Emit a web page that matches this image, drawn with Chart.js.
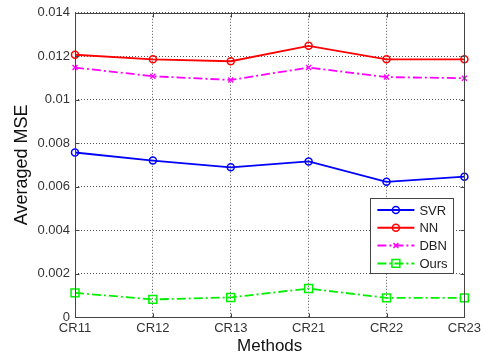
<!DOCTYPE html>
<html>
<head>
<meta charset="utf-8">
<script src="https://cdn.jsdelivr.net/npm/chart.js@4/dist/chart.umd.min.js"></script>
<style>
  html, body { margin: 0; padding: 0; background: #fff; }
  #wrap { width: 485px; height: 358px; position: relative; }
</style>
</head>
<body>
<div id="wrap"><canvas id="c" width="485" height="358"></canvas></div>
<script>
// Averaged MSE of each method over the six test conditions
const categories = ['CR11', 'CR12', 'CR13', 'CR21', 'CR22', 'CR23'];
const svr  = [0.00757, 0.00720, 0.00689, 0.00716, 0.00622, 0.00646];
const nn   = [0.01207, 0.01186, 0.01177, 0.01248, 0.01186, 0.01186];
const dbn  = [0.01148, 0.01108, 0.01091, 0.01148, 0.01104, 0.01099];
const ours = [0.00111, 0.00081, 0.00090, 0.00131, 0.00088, 0.00088];
const yTickLabels = ['0', '0.002', '0.004', '0.006', '0.008', '0.01', '0.012', '0.014'];

const FONT = "'Liberation Sans', Arial, sans-serif";
const AXIS_COLOR = '#444';
const DASH_DOT = [9, 3, 2, 3];

// Frame around the plot with inward tick marks on all four sides
const boxPlugin = {
  id: 'box',
  afterDatasetsDraw(chart) {
    const { ctx, chartArea: a, scales } = chart;
    ctx.save();
    ctx.strokeStyle = AXIS_COLOR;
    ctx.lineWidth = 1;
    ctx.setLineDash([]);
    const L = Math.round(a.left) + 0.5, R = Math.round(a.right) + 0.5;
    const T = Math.round(a.top) + 0.5, B = Math.round(a.bottom) + 0.5;
    ctx.strokeRect(L, T, R - L, B - T);
    const len = 4;
    ctx.beginPath();
    scales.x.ticks.forEach((t, i) => {
      const x = Math.round(scales.x.getPixelForTick(i)) + 0.5;
      ctx.moveTo(x, B); ctx.lineTo(x, B - len);
      ctx.moveTo(x, T); ctx.lineTo(x, T + len);
    });
    scales.y.ticks.forEach((t) => {
      const y = Math.round(scales.y.getPixelForValue(t.value)) + 0.5;
      ctx.moveTo(L, y); ctx.lineTo(L + len, y);
      ctx.moveTo(R, y); ctx.lineTo(R - len, y);
    });
    ctx.stroke();
    ctx.restore();
  }
};

// Boxed legend inside the lower right corner of the plot
const innerLegend = {
  id: 'innerLegend',
  afterDraw(chart) {
    const { ctx, chartArea: a } = chart;
    const w = 83, h = 75;
    const x0 = a.right - 11 - w, y0 = a.bottom - 44 - h;
    ctx.save();
    ctx.fillStyle = '#fff';
    ctx.fillRect(x0, y0, w, h);
    ctx.strokeStyle = AXIS_COLOR;
    ctx.lineWidth = 1;
    ctx.setLineDash([]);
    ctx.strokeRect(Math.round(x0) + 0.5, Math.round(y0) + 0.5, w, h);
    chart.data.datasets.forEach((ds, i) => {
      const y = y0 + 12 + i * 17.8;
      const lx0 = x0 + 7, lx1 = x0 + 44;
      ctx.save();
      ctx.strokeStyle = ds.borderColor;
      ctx.lineWidth = 2;
      ctx.setLineDash(ds.borderDash || []);
      ctx.beginPath();
      ctx.moveTo(lx0, y); ctx.lineTo(lx1, y);
      ctx.stroke();
      ctx.restore();
      ctx.save();
      ctx.strokeStyle = ds.borderColor;
      ctx.fillStyle = 'rgba(0,0,0,0)';
      ctx.lineWidth = ds.pointBorderWidth;
      Chart.helpers.drawPoint(ctx, { pointStyle: ds.pointStyle, radius: ds.pointRadius, rotation: 0, borderWidth: ds.pointBorderWidth }, (lx0 + lx1) / 2, y);
      ctx.restore();
      ctx.fillStyle = '#222';
      ctx.font = '13px ' + FONT;
      ctx.textBaseline = 'middle';
      ctx.textAlign = 'left';
      ctx.fillText(ds.label, x0 + 49, y + 1);
    });
    ctx.restore();
  }
};

function series(label, data, color, dash, style, radius) {
  return {
    label, data,
    borderColor: color,
    backgroundColor: 'rgba(0,0,0,0)',
    borderWidth: 1.8,
    borderDash: dash,
    pointStyle: style,
    pointRadius: radius,
    pointHoverRadius: radius,
    pointBorderColor: color,
    pointBackgroundColor: 'rgba(0,0,0,0)',
    pointBorderWidth: 1.5,
    tension: 0,
    fill: false
  };
}

new Chart(document.getElementById('c'), {
  type: 'line',
  data: {
    labels: categories,
    datasets: [
      series('SVR', svr, '#0000ff', [], 'circle', 3.5),
      series('NN', nn, '#ff0000', [], 'circle', 3.5),
      series('DBN', dbn, '#ff00ff', DASH_DOT, 'crossRot', 3.5),
      series('Ours', ours, '#00f000', DASH_DOT, 'rect', 5.6)
    ]
  },
  options: {
    responsive: false,
    animation: false,
    events: [],
    layout: { padding: { left: 0, top: 10, right: 19, bottom: 0 } },
    plugins: { legend: { display: false }, tooltip: { enabled: false } },
    scales: {
      x: {
        offset: false,
        grid: { color: '#555', lineWidth: 1, drawTicks: false },
        border: { display: false, dash: [1, 2] },
        ticks: { color: '#333', font: { family: FONT, size: 13 }, padding: 4, maxRotation: 0, autoSkip: false },
        title: { display: true, text: 'Methods', color: '#111', font: { family: FONT, size: 17 }, padding: { top: 0, bottom: 1 } },
        afterFit(scale) { scale.height = 41; }
      },
      y: {
        min: 0, max: 0.014,
        grid: { color: '#555', lineWidth: 1, drawTicks: false },
        border: { display: false, dash: [1, 2] },
        ticks: {
          stepSize: 0.002, color: '#333', font: { family: FONT, size: 13 }, padding: 5,
          callback: (v, i) => yTickLabels[i]
        },
        title: { display: true, text: 'Averaged MSE', color: '#111', font: { family: FONT, size: 18 }, padding: { top: 11, bottom: 0 } },
        afterFit(scale) { scale.width = 75; }
      }
    }
  },
  plugins: [boxPlugin, innerLegend]
});
</script>
</body>
</html>
